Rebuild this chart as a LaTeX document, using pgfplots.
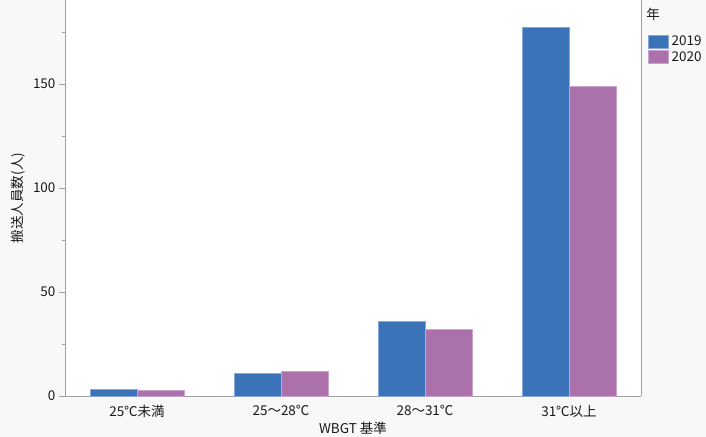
\documentclass[border=0pt]{standalone}
\usepackage{fontspec}
\setmainfont{Noto Sans CJK JP}
\usepackage{pgfplots}
\pgfplotsset{compat=1.18}
\definecolor{bg}{HTML}{F8F8F8}
\definecolor{axgray}{HTML}{A0A0A0}
\definecolor{cblue}{HTML}{3A73B8}
\definecolor{cblueedge}{HTML}{86A9D8}
\definecolor{cpurp}{HTML}{AA71AA}
\definecolor{cpurpedge}{HTML}{CDA3CD}
\definecolor{txt}{HTML}{1A1A1A}
\begin{document}
\begin{tikzpicture}
\fill[bg] (0bp,0bp) rectangle (706bp,437bp);
\begin{axis}[
  at={(65bp,41bp)}, anchor=south west,
  scale only axis, width=576bp, height=396bp,
  xmin=-0.5, xmax=3.5, ymin=0, ymax=190.4,
  ybar=0pt, bar width=0.326,
  axis background/.style={fill=white},
  axis x line*=bottom, axis y line*=left,
  axis line style={axgray, line width=0.9bp},
  every axis plot/.append style={line width=0.8bp},
  xtick={0,1,2,3},
  xticklabels={25℃未満,25～28℃,28～31℃,31℃以上},
  x tick style={draw=none},
  ytick={0,50,100,150},
  minor ytick={25,75,125,175},
  y tick style={axgray, line width=0.8bp},
  tick align=outside,
  major tick length=6bp, minor tick length=3bp,
  /pgf/number format/assume math mode=true,
  tick label style={font=\fontsize{13.5bp}{15bp}\selectfont, text=txt},
  label style={font=\fontsize{13.5bp}{15bp}\selectfont, text=txt},
  xlabel={WBGT 基準},
  ylabel={搬送人員数(人)},
  xlabel style={at={(axis description cs:0.5,-0.0808)}, anchor=center},
  ylabel style={at={(axis description cs:-0.0816,0.5)}, anchor=center, rotate=0},
  legend style={draw=none, fill=none, at={(rel axis cs:1.0062,0.918)}, anchor=north west,
    font=\fontsize{13.5bp}{15bp}\selectfont, text=txt, row sep=1.2bp,
    nodes={inner ysep=1.5bp, inner xsep=3bp}},
  legend cell align=left,
  legend image code/.code={\fill[#1] (0bp,-6.5bp) rectangle (20bp,6.5bp);},
  clip=false,
]
\addplot[fill=cblue, draw=cblueedge] coordinates {(0,3) (1,11) (2,36) (3,177)};
\addplot[fill=cpurp, draw=cpurpedge] coordinates {(0,2.5) (1,12) (2,32) (3,149)};
\legend{2019,2020}
\draw[axgray, line width=0.9bp] (rel axis cs:1,0) -- (rel axis cs:1,1);
\end{axis}
\node[anchor=center, text=txt, font=\fontsize{13.5bp}{15bp}\selectfont] at (653bp,423bp) {年};
\pgfresetboundingbox
\useasboundingbox (0bp,0bp) rectangle (706bp,437bp);
\end{tikzpicture}
\end{document}
